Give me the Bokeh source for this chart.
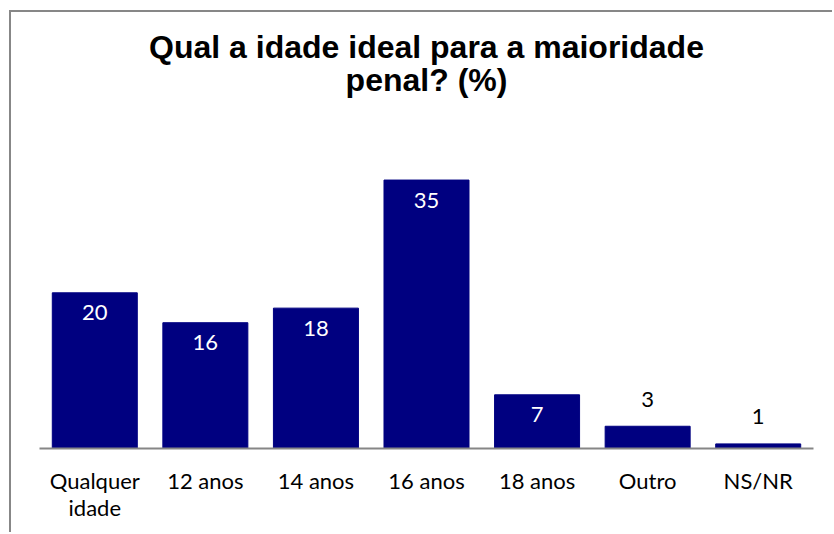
from bokeh.plotting import figure
from bokeh.models import ColumnDataSource, LabelSet, Range1d, Label
from bokeh.core.properties import value
from bokeh.embed import file_html
from bokeh.resources import INLINE

title_lines = ["Qual a idade ideal para a maioridade", "penal? (%)"]
categories = ["Qualquer\nidade", "12 anos", "14 anos", "16 anos", "18 anos", "Outro", "NS/NR"]
values = [20.3, 16.4, 18.3, 35.0, 7.0, 2.9, 0.6]
labels = ["%.0f" % v for v in values]

# layout (pixels)
PX_PER_UNIT = 7.67
FRAME_H = 436
TITLE_BASELINES = [34, 67]  # px from top of canvas
y_end = FRAME_H / PX_PER_UNIT

inside = [v >= 5 for v in values]
src = ColumnDataSource(dict(
    cat=categories,
    val=values,
    lab=labels,
    col=["white" if i else "black" for i in inside],
    off=[-20 if i else 27 for i in inside],
))

p = figure(x_range=categories, y_range=Range1d(0, y_end),
           width=823, height=522, output_backend="svg", toolbar_location=None,
           min_border_left=28, min_border_right=21, min_border_top=0, min_border_bottom=86)
p.styles = {"margin-left": "9px", "margin-top": "10px",
            "border-left": "2px solid #878787", "border-top": "2px solid #878787"}

p.vbar(x="cat", top="val", width=85/110.57, source=src,
       fill_color="#000080", line_color="#000080")

ls = LabelSet(x="cat", y="val", text="lab", source=src, y_offset="off",
              text_align="center", text_baseline="middle",
              text_color="col", text_font=value("Lato"), text_font_size="22px")
p.add_layout(ls)

x_mid = len(categories) / 2
for txt, b in zip(title_lines, TITLE_BASELINES):
    lab = Label(x=x_mid, y=(FRAME_H - b) / PX_PER_UNIT, text=txt,
                text_align="center", text_baseline="alphabetic",
                text_font="Liberation Sans", text_font_style="bold",
                text_font_size="32px", text_color="black")
    p.add_layout(lab)

p.yaxis.visible = False
p.xgrid.visible = False
p.ygrid.visible = False
p.outline_line_color = None
p.x_range.range_padding = 0

ax = p.xaxis[0]
ax.axis_line_color = "#868686"
ax.axis_line_width = 2
ax.major_tick_line_color = None
ax.minor_tick_line_color = None
ax.major_label_text_font = "Lato"
ax.major_label_text_font_size = "22px"
ax.major_label_text_color = "black"
ax.major_label_text_line_height = 1.0
ax.major_label_standoff = 12

open("out.html", "w").write(file_html(p, INLINE))
